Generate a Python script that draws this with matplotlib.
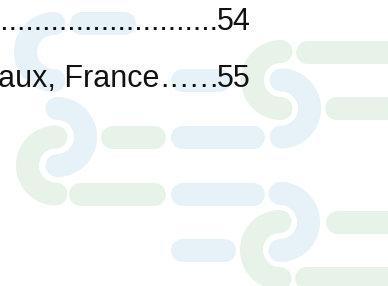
import numpy as np
import matplotlib
matplotlib.use("Agg")
import matplotlib.pyplot as plt

# colours of the background pattern
blue = "#E6F1F8"
green = "#E7F3E8"

# straight rounded bars: row (y centre), left and right outer edge, colour
bar_y = [23, 80, 137, 194, 250, 52, 108, 137, 194, 222, 278]
bar_x0 = [69, 170, 170, 170, 170, 295, 324, 100, 68, 325, 294]
bar_x1 = [135, 230, 264, 264, 235, 410, 410, 165, 165, 410, 410]
bar_col = [blue] * 5 + [green] * 6

# half rings: centre, which side they bulge to, colour
arc_cx = [281, 280, 57, 281, 280, 56, 54]
arc_cy = [108.5, 222, 137, 80, 250, 165.5, 52]
arc_side = ["right", "right", "right", "left", "left", "left", "left"]
arc_col = [blue, blue, blue, green, green, green, blue]

# table of contents lines: entry, leader dots, page number
toc_entry = ["", "Bordeaux, France"]
toc_dots = [40, 6]
toc_page = ["54", "55"]
toc_base = [30.5, 87]

W, H = 388, 286
fig = plt.figure(figsize=(W / 100, H / 100), dpi=100)
ax = fig.add_axes([0, 0, 1, 1])
ax.set_xlim(0, W)
ax.set_ylim(H, 0)
ax.axis("off")

thick = 23   # band thickness in px
r = 28.5     # ring radius in px
lw = thick * 72 / 100

for y, x0, x1, c in zip(bar_y, bar_x0, bar_x1, bar_col):
    ax.plot([x0 + thick / 2, x1 - thick / 2], [y, y], color=c, lw=lw,
            solid_capstyle="round")

for cx, cy, side, c in zip(arc_cx, arc_cy, arc_side, arc_col):
    if side == "right":
        t = np.linspace(-np.pi / 2, np.pi / 2, 100)
    else:
        t = np.linspace(np.pi / 2, 3 * np.pi / 2, 100)
    ax.plot(cx + r * np.cos(t), cy + r * np.sin(t), color=c, lw=lw,
            solid_capstyle="round")

font = dict(fontsize=22, family="Liberation Sans", color="#111111",
            va="baseline")
page_x = 251
num_w = 33
for entry, nd, page, yb in zip(toc_entry, toc_dots, toc_page, toc_base):
    ax.text(page_x, yb, page, ha="right", **font)
    if entry:
        # short leader: dots spread out a little, as in a justified tab
        dot_step = 9.8
        end = page_x - num_w
        for i in range(nd):
            ax.text(end - (i + 0.5) * dot_step, yb, ".", ha="center", **font)
        ax.text(end - nd * dot_step, yb, entry, ha="right", **font)
    else:
        ax.text(page_x - num_w, yb, "." * nd, ha="right", **font)

fig.savefig("out.png", dpi=100)
